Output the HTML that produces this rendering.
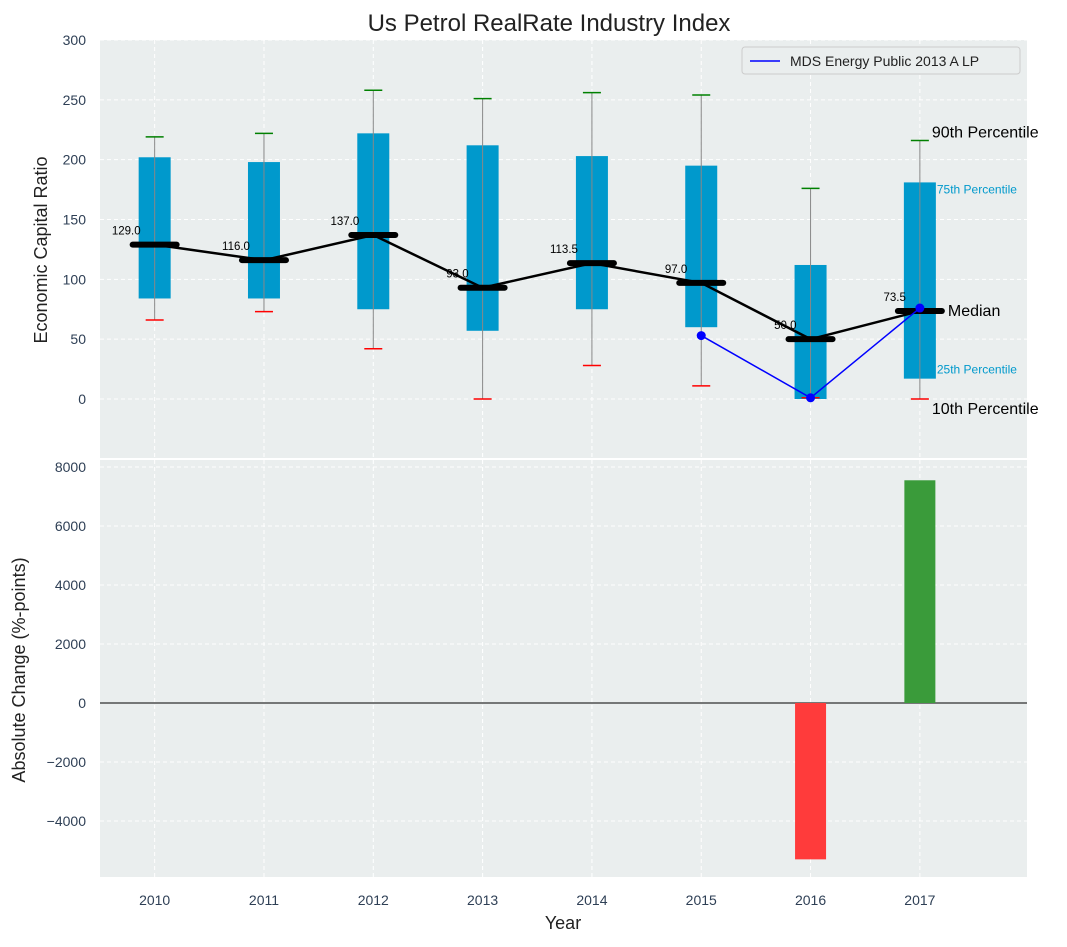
<!DOCTYPE html>
<html><head><meta charset="utf-8"><style>
body{margin:0;background:#fff;}
svg text{font-family:"Liberation Sans","DejaVu Sans",sans-serif;}
</style></head><body>
<svg id="chart" width="1067" height="942" xmlns="http://www.w3.org/2000/svg"></svg>
<script>
const years=[2010,2011,2012,2013,2014,2015,2016,2017];
const q1=[84,84,75,57,75,60,0,17];
const q3=[202,198,222,212,203,195,112,181];
const p10=[66,73,42,0,28,11,1,0];
const p90=[219,222,258,251,256,254,176,216];
const medians=[129,116,137,93,113.5,97,50,73.5];
const lineYears=[2015,2016,2017];
const lineVals=[53,1,76];
const changeYears=[2016,2017];
const changeVals=[-5300,7550];
const topTicks=[0,50,100,150,200,250,300];
const botTicks=[-4000,-2000,0,2000,4000,6000,8000];

const NS="http://www.w3.org/2000/svg";
const svg=document.getElementById('chart');
function el(t,a,p){const e=document.createElementNS(NS,t);for(const k in a)e.setAttribute(k,a[k]);(p||svg).appendChild(e);return e;}
const L=100,R=1027;
const x=v=>L+(v-2009.5)/(2017.98-2009.5)*(R-L);
const yT=v=>399-(v)*(359/300);
const yB=v=>703-v*(236/8000);
const T0=40,T1=458,B0=460,B1=877;

let e;
e=el('rect',{x:L,y:T0,width:R-L,height:T1-T0,fill:'#eaeeee'});

e=el('rect',{x:L,y:B0,width:R-L,height:B1-B0,fill:'#eaeeee'});


// grids
years.forEach(yr=>{
 el('line',{x1:x(yr),x2:x(yr),y1:T0,y2:T1,stroke:'#fff','stroke-dasharray':'4,3','stroke-width':1});
 el('line',{x1:x(yr),x2:x(yr),y1:B0,y2:B1,stroke:'#fff','stroke-dasharray':'4,3','stroke-width':1});
 e=el('text',{x:x(yr),y:905,'text-anchor':'middle','font-size':14,fill:'#2e3f55'});e.textContent=yr;
 
});
topTicks.forEach(t=>{
 el('line',{x1:L,x2:R,y1:yT(t),y2:yT(t),stroke:'#fff','stroke-dasharray':'4,3'});
 e=el('text',{x:86,y:yT(t)+5,'text-anchor':'end','font-size':14,fill:'#2e3f55'});e.textContent=t;
 
});
botTicks.forEach(t=>{
 el('line',{x1:L,x2:R,y1:yB(t),y2:yB(t),stroke:'#fff','stroke-dasharray':'4,3'});
 e=el('text',{x:86,y:yB(t)+5,'text-anchor':'end','font-size':14,fill:'#2e3f55'});e.textContent=t===0?'0':(t<0?'\u2212'+(-t):t);
 
});

// boxes
const bw=(x(1)-x(0))*0;
const half=16;
years.forEach((yr,i)=>{
 const cx=x(yr);
 e=el('rect',{x:cx-half,y:yT(q3[i]),width:2*half,height:yT(q1[i])-yT(q3[i]),fill:'#0099cc'});
 
 e=el('line',{x1:cx,x2:cx,y1:yT(p90[i]),y2:yT(p10[i]),stroke:'#888','stroke-width':1});
 
 e=el('line',{x1:cx-9,x2:cx+9,y1:yT(p90[i]),y2:yT(p90[i]),stroke:'green','stroke-width':1.5});
 
 e=el('line',{x1:cx-9,x2:cx+9,y1:yT(p10[i]),y2:yT(p10[i]),stroke:'red','stroke-width':1.5});
 
});
// median line
e=el('polyline',{points:years.map((yr,i)=>x(yr)+','+yT(medians[i])).join(' '),fill:'none',stroke:'#000','stroke-width':2.5});

years.forEach((yr,i)=>{
 const cx=x(yr);
 e=el('line',{x1:cx-22,x2:cx+22,y1:yT(medians[i]),y2:yT(medians[i]),stroke:'#000','stroke-width':6,'stroke-linecap':'round'});
 
 e=el('text',{x:cx-14,y:yT(medians[i])-10,'text-anchor':'end','font-size':11.5,fill:'#000'});e.textContent=medians[i].toFixed(1);
 
});
// blue series
e=el('polyline',{points:lineYears.map((yr,i)=>x(yr)+','+yT(lineVals[i])).join(' '),fill:'none',stroke:'blue','stroke-width':1.5});

lineYears.forEach((yr,i)=>{e=el('circle',{cx:x(yr),cy:yT(lineVals[i]),r:4.5,fill:'blue'});
 });

// annotations
const last=years.length-1, lx=x(years[last]);
[['90th Percentile',lx+12,yT(p90[last])-3,16,'#000'],['75th Percentile',lx+17,yT(q3[last])+11,12,'#0099cc'],
 ['Median',lx+28,yT(medians[last])+5,16,'#000'],['25th Percentile',lx+17,yT(q1[last])-5,12,'#0099cc'],
 ['10th Percentile',lx+12,yT(p10[last])+15,16,'#000']].forEach(a=>{
 e=el('text',{x:a[1],y:a[2],'font-size':a[3],fill:a[4]});e.textContent=a[0];
 
});

// bars
el('line',{x1:L,x2:R,y1:yB(0),y2:yB(0),stroke:'#000','stroke-width':1});
changeYears.forEach((yr,i)=>{
 const v=changeVals[i];
 e=el('rect',{x:x(yr)-15.5,y:Math.min(yB(0),yB(v)),width:31,height:Math.abs(yB(v)-yB(0)),fill:v<0?'#ff3b3b':'#3a9b3a'});
 
});

// legend
const lg=el('g',{});
el('rect',{x:742,y:47,width:278,height:27,fill:'#eaeeee',stroke:'#ccc',rx:3},lg);
el('line',{x1:750,x2:780,y1:61,y2:61,stroke:'blue','stroke-width':1.5},lg);
e=el('text',{x:790,y:66,'font-size':14,fill:'#222'},lg);e.textContent='MDS Energy Public 2013 A LP';

// titles
e=el('text',{x:549,y:31,'text-anchor':'middle','font-size':24,fill:'#222'});e.textContent='Us Petrol RealRate Industry Index';

e=el('text',{x:563,y:929,'text-anchor':'middle','font-size':18,fill:'#222'});e.textContent='Year';

e=el('text',{transform:'translate(47,250) rotate(-90)','text-anchor':'middle','font-size':18,fill:'#222'});e.textContent='Economic Capital Ratio';

e=el('text',{transform:'translate(25,670) rotate(-90)','text-anchor':'middle','font-size':18,fill:'#222'});e.textContent='Absolute Change (%-points)';

</script>
</body></html>
